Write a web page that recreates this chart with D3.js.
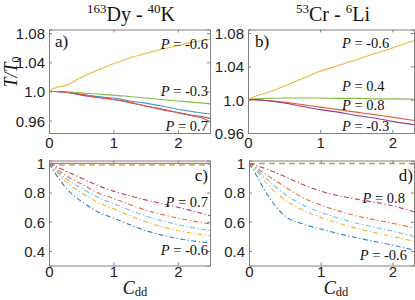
<!DOCTYPE html>
<html><head><meta charset="utf-8">
<script src="https://cdn.jsdelivr.net/npm/d3@7"></script>
<style>body{margin:0;background:#fff} svg{display:block} text{white-space:pre}</style>
</head><body>
<svg id="chart" width="415" height="300"></svg>
<script>
// ---------- data ----------
const xA = [0,0.1,0.25,0.5,0.75,1,1.25,1.5,1.75,2,2.25,2.4,2.5];
const aYellow = [1.000,1.005,1.008,1.019,1.029,1.038,1.046,1.052,1.058,1.063,1.068,1.070,1.072];
const aGreen  = [1.000,1.000,0.9995,0.998,0.9965,0.995,0.993,0.991,0.989,0.987,0.985,0.984,0.983];
const aBlue   = [1.000,1.000,0.999,0.996,0.993,0.991,0.987,0.984,0.980,0.9755,0.972,0.970,0.969];
const aPurple = [1.000,1.000,0.999,0.995,0.992,0.989,0.985,0.980,0.976,0.971,0.967,0.965,0.963];
const aRed    = [1.000,1.000,0.999,0.996,0.992,0.989,0.985,0.980,0.975,0.971,0.966,0.963,0.958];

const xB = [0,0.1,0.25,0.5,0.75,1,1.25,1.5,1.75,2,2.3];
const bYellow = [1.000,1.004,1.008,1.016,1.025,1.034,1.041,1.048,1.055,1.062,1.071];
const bGreen  = [1.000,1.001,1.0015,1.002,1.002,1.002,1.0015,1.0015,1.001,1.001,1.0005];
const bRed    = [1.000,1.000,0.999,0.997,0.994,0.991,0.988,0.985,0.982,0.979,0.975];
const bPurple = [1.000,1.000,0.999,0.996,0.992,0.988,0.985,0.981,0.978,0.974,0.970];

const xC = [0,0.1,0.25,0.5,0.75,1,1.5,2,2.5];
const cRed    = [1,0.98,0.95,0.90,0.85,0.81,0.75,0.70,0.642];
const cOrange = [1,0.97,0.92,0.86,0.80,0.76,0.68,0.625,0.585];
const cLBlue  = [1,0.96,0.90,0.83,0.77,0.725,0.64,0.58,0.54];
const cYellow = [1,0.95,0.88,0.80,0.735,0.69,0.60,0.54,0.505];
const cBlue   = [1,0.93,0.84,0.74,0.67,0.625,0.54,0.485,0.455];
const xCRef = [0,2.5];
const cRefPink = [1.0,1.0];
const cRefDash = [0.989,0.989];

const xD = [0,0.1,0.25,0.5,0.75,1,1.5,2,2.3];
const dRed    = [1,0.985,0.96,0.91,0.855,0.81,0.755,0.71,0.668];
const dOrange = [1,0.97,0.92,0.84,0.765,0.715,0.64,0.59,0.557];
const dLBlue  = [1,0.96,0.89,0.79,0.715,0.665,0.59,0.535,0.50];
const dYellow = [1,0.95,0.86,0.75,0.68,0.63,0.555,0.50,0.466];
const dBlue   = [1,0.92,0.79,0.64,0.585,0.55,0.49,0.44,0.405];
const xDRef = [0,2.3];
const dRefDash = [0.999,0.999];

const xTicks = [0,1,2];
const xTickLabels = ["0","1","2"];
const yTicksTop = [0.96,1.0,1.04,1.08];
const yTickLabelsTop = ["0.96","1.0","1.04","1.08"];
const yTicksBot = [0.4,0.6,0.8,1];
const yTickLabelsBot = ["0.4","0.6","0.8","1"];

// ---------- styles ----------
const col = {yellow:"#F2B636", green:"#86BA45", blue:"#3F98DA", purple:"#8A3E9C", red:"#E2602C",
             dRed:"#C8385F", dOrange:"#E8693C", dLBlue:"#62C2EE", dYellow:"#F0B431", dBlue:"#2A80CC",
             pink:"#D46A9C", olive:"#A9A65C", cDash:"#B9B54E"};
const DASHDOT = "5,2.5,1.2,2.5", DASH = "6,4";

const svg = d3.select("#chart");
const SANS = "'Liberation Sans', Arial, sans-serif";
const SERIF = "'Liberation Serif', 'Times New Roman', serif";

const panels = [
  {L:49, R:210, T:29.5, B:133, xd:[0,2.5], yd:[0.943,1.085], yt:yTicksTop, ytl:yTickLabelsTop, xlabY:148,
   series:[[xA,aGreen,col.green,null],[xA,aBlue,col.blue,null],[xA,aPurple,col.purple,null],[xA,aRed,col.red,null],[xA,aYellow,col.yellow,null]]},
  {L:248, R:414, T:29.5, B:133, xd:[0,2.3], yd:[0.96,1.0842], yt:yTicksTop, ytl:yTickLabelsTop, xlabY:148,
   series:[[xB,bGreen,col.green,null],[xB,bRed,col.red,null],[xB,bPurple,col.purple,null],[xB,bYellow,col.yellow,null]]},
  {L:49, R:210, T:160.5, B:265.5, xd:[0,2.5], yd:[0.3,1.02], yt:yTicksBot, ytl:yTickLabelsBot, xlabY:277,
   series:[[xCRef,cRefPink,col.pink,null],[xCRef,cRefDash,col.cDash,DASH],
           [xC,cRed,col.dRed,DASHDOT],[xC,cOrange,col.dOrange,DASHDOT],[xC,cLBlue,col.dLBlue,DASHDOT],[xC,cYellow,col.dYellow,DASHDOT],[xC,cBlue,col.dBlue,DASHDOT]]},
  {L:249, R:414, T:160.5, B:265.5, xd:[0,2.3], yd:[0.3,1.02], yt:yTicksBot, ytl:yTickLabelsBot, xlabY:277,
   series:[[xDRef,dRefDash,col.olive,DASH],
           [xD,dRed,col.dRed,DASHDOT],[xD,dOrange,col.dOrange,DASHDOT],[xD,dLBlue,col.dLBlue,DASHDOT],[xD,dYellow,col.dYellow,DASHDOT],[xD,dBlue,col.dBlue,DASHDOT]]}
];

panels.forEach((p,i)=>{
  const x = d3.scaleLinear().domain(p.xd).range([p.L,p.R]);
  const y = d3.scaleLinear().domain(p.yd).range([p.B,p.T]);
  const g = svg.append("g");
  const clipId = "clip"+i;
  svg.append("clipPath").attr("id",clipId).append("rect")
    .attr("x",p.L).attr("y",p.T).attr("width",p.R-p.L).attr("height",p.B-p.T);
  const line = d3.line().x(d=>x(d[0])).y(d=>y(d[1])).curve(d3.curveMonotoneX);
  p.series.forEach(s=>{
    const pts = s[0].map((xv,k)=>[xv,s[1][k]]);
    g.append("path").attr("d",line(pts)).attr("fill","none").attr("stroke",s[2])
      .attr("stroke-width",s[3]===DASH?1.4:1.1).attr("clip-path",`url(#${clipId})`)
      .attr("stroke-dasharray",s[3]||null);
  });
  const tk = 3;
  const axB = d3.axisBottom(x).tickValues(xTicks).tickSize(-tk).tickFormat((d,k)=>xTickLabels[k]);
  const axT = d3.axisTop(x).tickValues(xTicks).tickSize(-tk).tickFormat("");
  const axL = d3.axisLeft(y).tickValues(p.yt).tickSize(-tk).tickFormat((d,k)=>p.ytl[k]);
  const axR = d3.axisRight(y).tickValues(p.yt).tickSize(-tk).tickFormat("");
  const gb = g.append("g").attr("transform",`translate(0,${p.B})`).call(axB);
  g.append("g").attr("transform",`translate(0,${p.T})`).call(axT);
  const gl = g.append("g").attr("transform",`translate(${p.L},0)`).call(axL);
  g.append("g").attr("transform",`translate(${p.R},0)`).call(axR);
  g.selectAll(".domain").attr("stroke","#808080").attr("stroke-width",1);
  g.selectAll(".tick line").attr("stroke","#808080");
  gb.selectAll("text").attr("font-family",SANS).attr("font-size",15).attr("fill","#222")
    .attr("y",null).attr("dy",null).attr("transform",`translate(0,${p.xlabY-p.B})`);
  gl.selectAll("text").attr("font-family",SANS).attr("font-size",15).attr("fill","#222")
    .attr("x",-4).attr("dy","0.36em");
});

// ---------- text ----------
function title(cx, parts){
  const t = svg.append("text").attr("x",cx).attr("y",21).attr("text-anchor","middle")
    .attr("font-family",SERIF).attr("fill","#111");
  parts.forEach(pt=>{
    t.append("tspan").text(pt[0]).attr("font-size",pt[1]?13:20).attr("dy",pt[2]);
  });
}
title(131, [["163",1,-8],["Dy - ",0,8],["40",1,-8],["K",0,8]]);
title(333, [["53",1,-8],["Cr - ",0,8],["6",1,-8],["Li",0,8]]);

const yl = svg.append("text").attr("transform","translate(17,72) rotate(-90)").attr("text-anchor","middle")
  .attr("font-family",SERIF).attr("fill","#111");
yl.append("tspan").text("T/T").attr("font-style","italic").attr("font-size",18);
yl.append("tspan").text("0").attr("font-size",12).attr("dy",3);

function cdd(cx){
  const t = svg.append("text").attr("x",cx).attr("y",294).attr("text-anchor","middle")
    .attr("font-family",SERIF).attr("fill","#111");
  t.append("tspan").text("C").attr("font-style","italic").attr("font-size",18);
  t.append("tspan").text("dd").attr("font-size",12.5).attr("dy",2);
}
cdd(135); cdd(336);

function plain(x,y,s,anchor){
  svg.append("text").attr("x",x).attr("y",y).attr("text-anchor",anchor||"start")
    .attr("font-family",SERIF).attr("font-size",17).attr("fill","#111").text(s);
}
plain(55,47,"a)"); plain(255,47,"b)"); plain(208,181,"c)","end"); plain(413,181,"d)","end");

function plab(x,y,val,anchor){
  const t = svg.append("text").attr("x",x).attr("y",y).attr("text-anchor",anchor||"start")
    .attr("font-family",SERIF).attr("font-size",14.5).attr("fill","#111");
  t.append("tspan").text("P").attr("font-style","italic");
  t.append("tspan").text(" = "+val);
}
plab(208,49,"-0.6","end"); plab(208,96,"-0.3","end"); plab(208,131,"0.7","end");
plab(342,48,"-0.6"); plab(342,91,"0.4"); plab(342,110,"0.8"); plab(342,131,"-0.3");
plab(208,207,"0.7","end"); plab(208,255,"-0.6","end");
plab(405,203,"0.8","end"); plab(407,260,"-0.6","end");
</script>
</body></html>
